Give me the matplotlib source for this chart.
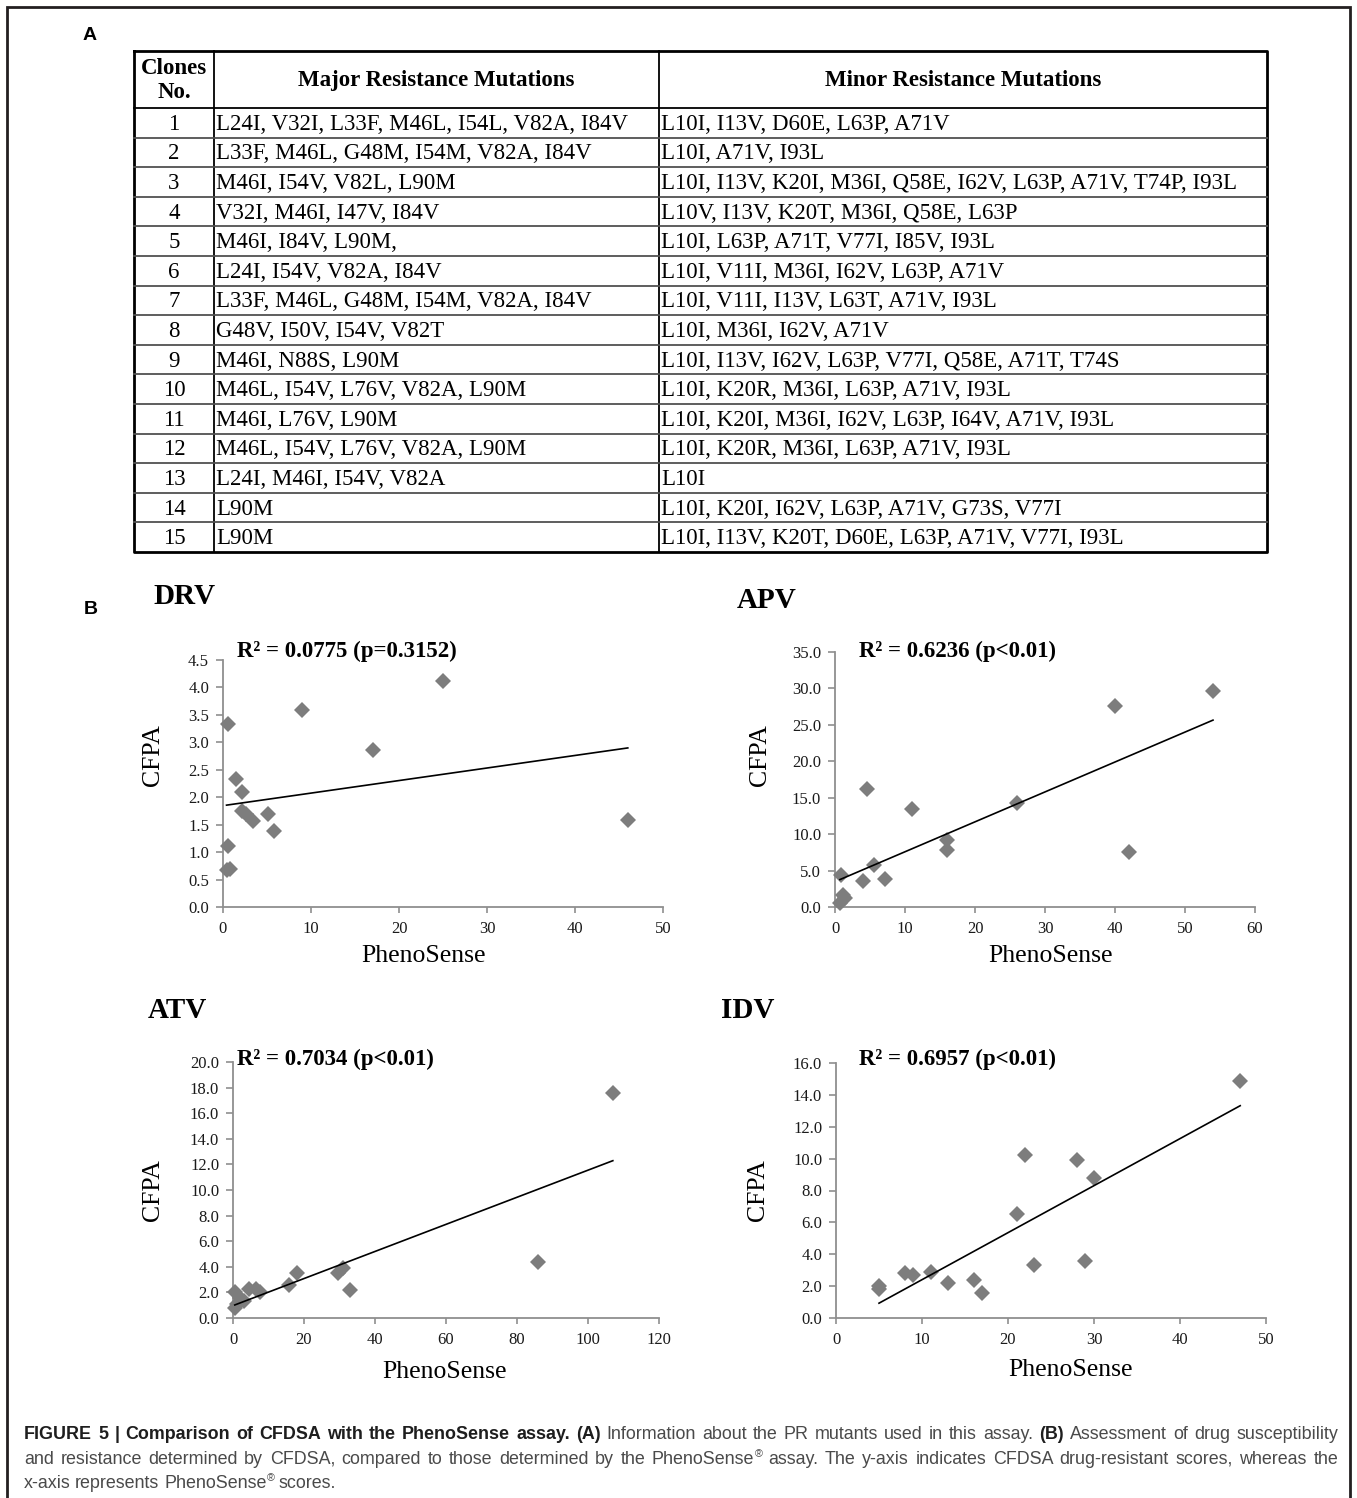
import numpy as np
import matplotlib
matplotlib.use("Agg")
import matplotlib.pyplot as plt

# ---------------- data ----------------
clone_no = [str(i) for i in range(1, 16)]
major_mut = [
    "L24I, V32I, L33F, M46L, I54L, V82A, I84V",
    "L33F, M46L, G48M, I54M, V82A, I84V",
    "M46I, I54V, V82L, L90M",
    "V32I, M46I, I47V, I84V",
    "M46I, I84V, L90M,",
    "L24I, I54V, V82A, I84V",
    "L33F, M46L, G48M, I54M, V82A, I84V",
    "G48V, I50V, I54V, V82T",
    "M46I, N88S, L90M",
    "M46L, I54V, L76V, V82A, L90M",
    "M46I, L76V, L90M",
    "M46L, I54V, L76V, V82A, L90M",
    "L24I, M46I, I54V, V82A",
    "L90M",
    "L90M",
]
minor_mut = [
    "L10I, I13V, D60E, L63P, A71V",
    "L10I, A71V, I93L",
    "L10I, I13V, K20I, M36I, Q58E, I62V, L63P, A71V, T74P, I93L",
    "L10V, I13V, K20T, M36I, Q58E, L63P",
    "L10I, L63P, A71T, V77I, I85V, I93L",
    "L10I, V11I, M36I, I62V, L63P, A71V",
    "L10I, V11I, I13V, L63T, A71V, I93L",
    "L10I, M36I, I62V, A71V",
    "L10I, I13V, I62V, L63P, V77I, Q58E, A71T, T74S",
    "L10I, K20R, M36I, L63P, A71V, I93L",
    "L10I, K20I, M36I, I62V, L63P, I64V, A71V, I93L",
    "L10I, K20R, M36I, L63P, A71V, I93L",
    "L10I",
    "L10I, K20I, I62V, L63P, A71V, G73S, V77I",
    "L10I, I13V, K20T, D60E, L63P, A71V, V77I, I93L",
]
table_headers = ["Clones\nNo.", "Major Resistance Mutations", "Minor Resistance Mutations"]

drv_x = [25, 9, 0.6, 17, 1.5, 2.2, 2.2, 2.6, 5.1, 3.4, 5.8, 46, 0.6, 0.4, 0.8]
drv_y = [4.12, 3.58, 3.33, 2.86, 2.33, 2.10, 1.75, 1.70, 1.70, 1.56, 1.38, 1.59, 1.12, 0.67, 0.70]

apv_x = [54, 40, 4.5, 11, 26, 16, 16, 42, 5.5, 7.2, 4.0, 0.9, 1.1, 1.4, 0.7]
apv_y = [29.6, 27.6, 16.2, 13.4, 14.3, 9.2, 7.8, 7.6, 5.8, 3.8, 3.6, 4.4, 1.6, 1.2, 0.6]

atv_x = [107, 86, 33, 31, 29.5, 18, 15.8, 6.5, 7.5, 4.5, 0.5, 2.0, 3.0, 0.5, 1.2]
atv_y = [17.6, 4.4, 2.2, 3.9, 3.5, 3.5, 2.6, 2.3, 2.0, 2.3, 2.0, 1.6, 1.3, 0.8, 1.1]

idv_x = [47, 22, 28, 30, 21, 23, 29, 11, 8, 9, 13, 16, 17, 5, 5]
idv_y = [14.9, 10.2, 9.9, 8.8, 6.5, 3.3, 3.6, 2.9, 2.8, 2.7, 2.2, 2.4, 1.6, 2.0, 1.8]

drug_names = ["DRV", "APV", "ATV", "IDV"]
r2_labels = ["R\u00b2 = 0.0775 (p=0.3152)", "R\u00b2 = 0.6236 (p<0.01)",
             "R\u00b2 = 0.7034 (p<0.01)", "R\u00b2 = 0.6957 (p<0.01)"]
x_ticks = [[0, 10, 20, 30, 40, 50], [0, 10, 20, 30, 40, 50, 60],
           [0, 20, 40, 60, 80, 100, 120], [0, 10, 20, 30, 40, 50]]
y_ticks = [[0.0, 0.5, 1.0, 1.5, 2.0, 2.5, 3.0, 3.5, 4.0, 4.5],
           [0.0, 5.0, 10.0, 15.0, 20.0, 25.0, 30.0, 35.0],
           [0.0, 2.0, 4.0, 6.0, 8.0, 10.0, 12.0, 14.0, 16.0, 18.0, 20.0],
           [0.0, 2.0, 4.0, 6.0, 8.0, 10.0, 12.0, 14.0, 16.0]]
x_label = "PhenoSense"
y_label = "CFPA"

caption_lines = [
    [("FIGURE 5 | Comparison of CFDSA with the PhenoSense assay. (A)", "bold"),
     ("Information about the PR mutants used in this assay.", "normal"),
     ("(B)", "bold"),
     ("Assessment of drug susceptibility", "normal")],
    [("and resistance determined by CFDSA, compared to those determined by the PhenoSense", "normal"),
     ("\u00ae", "sup"),
     ("assay. The y-axis indicates CFDSA drug-resistant scores, whereas the", "normal")],
    [("x-axis represents PhenoSense", "normal"), ("\u00ae", "sup"), ("scores.", "normal")],
]

# ---------------- figure ----------------
W, H = 1357, 1498
fig = plt.figure(figsize=(W / 100, H / 100), dpi=100)
fig.patch.set_facecolor("white")
ov = fig.add_axes([0, 0, 1, 1])
ov.set_xlim(0, W)
ov.set_ylim(H, 0)
ov.axis("off")
ov.set_zorder(0)

SERIF = ["Liberation Serif", "DejaVu Serif"]
SANS = ["Liberation Sans", "DejaVu Sans"]
NARROW = ["Liberation Sans Narrow", "Liberation Sans", "DejaVu Sans"]

# frame
ov.plot([7, 7, 1350, 1350], [H + 5, 7, 7, H + 5], color="#231f20", lw=2.0,
        solid_joinstyle="miter", clip_on=False)

# panel labels
ov.text(90, 36, "A", family=SANS, weight="bold", fontsize=14, ha="center", va="center")
ov.text(91, 609, "B", family=SANS, weight="bold", fontsize=14, ha="center", va="center")

# ---------------- table ----------------
tl, tc1, tc2, tr = 134, 214, 659, 1267
tt, th, tb = 51, 108, 552
nrows = len(clone_no)
rh = (tb - th) / nrows
ov.plot([tl, tr, tr, tl, tl], [tt, tt, tb, tb, tt], color="black", lw=2.0)
for xv in (tc1, tc2):
    ov.plot([xv, xv], [tt, tb], color="black", lw=1.3)
ov.plot([tl, tr], [th, th], color="black", lw=1.3)
for i in range(1, nrows):
    yv = th + i * rh
    ov.plot([tl, tr], [yv, yv], color="#505050", lw=1.3)

FS_T = 16.5
ov.text((tl + tc1) / 2, (tt + th) / 2 + 1, table_headers[0], family=SERIF, weight="bold",
        fontsize=FS_T, ha="center", va="center", linespacing=1.13)
ov.text((tc1 + tc2) / 2, (tt + th) / 2 + 1, table_headers[1], family=SERIF, weight="bold",
        fontsize=FS_T, ha="center", va="center")
ov.text((tc2 + tr) / 2, (tt + th) / 2 + 1, table_headers[2], family=SERIF, weight="bold",
        fontsize=FS_T, ha="center", va="center")
for i in range(nrows):
    yc = th + (i + 0.5) * rh + 1.5
    ov.text((tl + tc1) / 2, yc, clone_no[i], family=SERIF, fontsize=FS_T, ha="center", va="center")
    ov.text(tc1 + 2, yc, major_mut[i], family=SERIF, fontsize=FS_T, ha="left", va="center")
    ov.text(tc2 + 2, yc, minor_mut[i], family=SERIF, fontsize=FS_T, ha="left", va="center")

# ---------------- scatter panels ----------------
def px_axes(l, t, r, b):
    return fig.add_axes([l / W, 1 - b / H, (r - l) / W, (b - t) / H])

panels = [
    dict(x=drv_x, y=drv_y, box=(223, 660, 663, 907), title=(185, 596), r2=(237, 651),
         ylab=(153, 755), xlab=(424, 956)),
    dict(x=apv_x, y=apv_y, box=(835, 652, 1255, 907), title=(767, 601), r2=(859, 651),
         ylab=(760, 755), xlab=(1051, 956)),
    dict(x=atv_x, y=atv_y, box=(233, 1062, 659, 1318), title=(177, 1010), r2=(237, 1059),
         ylab=(153, 1190), xlab=(445, 1372)),
    dict(x=idv_x, y=idv_y, box=(836, 1063, 1266, 1318), title=(748, 1010), r2=(859, 1059),
         ylab=(758, 1190), xlab=(1071, 1370)),
]

SPINE = "#8f8f8f"
for k, p in enumerate(panels):
    ax = px_axes(*p["box"])
    ax.set_zorder(2)
    ax.patch.set_alpha(0)
    xs = np.array(p["x"], dtype=float)
    ys = np.array(p["y"], dtype=float)
    ax.plot(xs, ys, linestyle="none", marker="D", markersize=7.8,
            color="#7d7d7d", markeredgewidth=0, clip_on=False, zorder=3)
    slope, icpt = np.polyfit(xs, ys, 1)
    xl = np.array([xs.min(), xs.max()])
    ax.plot(xl, slope * xl + icpt, color="black", lw=1.2, zorder=4, clip_on=False)
    ax.set_xlim(x_ticks[k][0], x_ticks[k][-1])
    ax.set_ylim(y_ticks[k][0], y_ticks[k][-1])
    ax.set_xticks(x_ticks[k])
    ax.set_yticks(y_ticks[k])
    ax.set_xticklabels([str(v) for v in x_ticks[k]])
    ax.set_yticklabels(["%.1f" % v for v in y_ticks[k]])
    for s in ("top", "right"):
        ax.spines[s].set_visible(False)
    for s in ("left", "bottom"):
        ax.spines[s].set_color(SPINE)
        ax.spines[s].set_linewidth(1.3)
    ax.tick_params(axis="x", direction="out", length=4, width=1.2, color=SPINE, pad=6,
                   labelsize=12)
    ax.tick_params(axis="y", direction="out", length=5, width=1.2, color=SPINE, pad=5,
                   labelsize=12)
    for lab in ax.get_xticklabels() + ax.get_yticklabels():
        lab.set_family(SERIF)
        lab.set_color("#1a1a1a")

    ov.text(p["title"][0], p["title"][1], drug_names[k], family=SERIF, weight="bold",
            fontsize=21, ha="center", va="center")
    ov.text(p["r2"][0], p["r2"][1], r2_labels[k], family=SERIF, weight="bold",
            fontsize=16.5, ha="left", va="center")
    ov.text(p["ylab"][0], p["ylab"][1], y_label, family=SERIF, fontsize=18.5,
            rotation=90, ha="center", va="center")
    ov.text(p["xlab"][0], p["xlab"][1], x_label, family=SERIF, fontsize=18.5,
            ha="center", va="center")

# ---------------- caption (justified) ----------------
renderer = fig.canvas.get_renderer()
CAP_FS = 12.9
CAP_L, CAP_R = 24, 1338
baselines = [1439, 1464, 1488]
BOLD_C = "#1e1e1e"
NORM_C = "#4a4a4a"


def make_piece(text, style):
    if style == "sup":
        t = ov.text(0, 0, text, family=NARROW, fontsize=CAP_FS * 0.6, color=NORM_C,
                    ha="left", va="baseline")
    else:
        t = ov.text(0, 0, text, family=NARROW, fontsize=CAP_FS,
                    weight="bold" if style == "bold" else "normal",
                    color=BOLD_C if style == "bold" else NORM_C, ha="left", va="baseline")
    return t


space_w = None
for li, segs in enumerate(caption_lines):
    words = []
    for text, style in segs:
        if style == "sup":
            words[-1].append((text, style))
            continue
        for w in text.split(" "):
            if w:
                words.append([(w, style)])
    built = []
    total = 0.0
    for w in words:
        arts = []
        ww = 0.0
        for text, style in w:
            t = make_piece(text, style)
            bb = t.get_window_extent(renderer)
            arts.append((t, bb.width, style))
            ww += bb.width
        built.append((arts, ww))
        total += ww
    if space_w is None:
        tmp = ov.text(0, 0, "a a", family=NARROW, fontsize=CAP_FS)
        tmp2 = ov.text(0, 0, "aa", family=NARROW, fontsize=CAP_FS)
        space_w = tmp.get_window_extent(renderer).width - tmp2.get_window_extent(renderer).width
        tmp.remove()
        tmp2.remove()
    if li < len(caption_lines) - 1:
        gap = (CAP_R - CAP_L - total) / max(len(built) - 1, 1)
    else:
        gap = min(space_w, 4.5)
    x = CAP_L
    yb = baselines[li]
    for arts, ww in built:
        for t, wpx, style in arts:
            if style == "sup":
                t.set_position((x + 0.5, yb - 7))
            else:
                t.set_position((x, yb))
            x += wpx
        x += gap

fig.savefig("out.png", dpi=100, facecolor="white")
